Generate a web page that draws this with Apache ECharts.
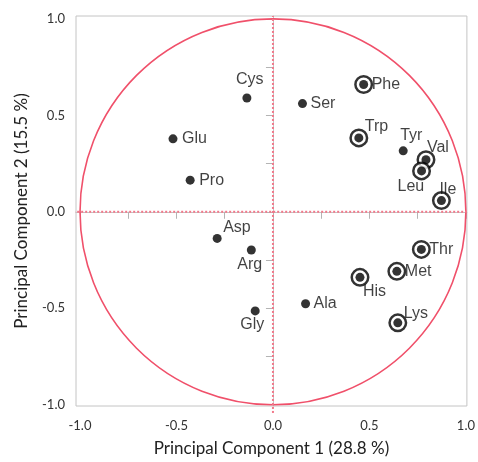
<!DOCTYPE html>
<html><head><meta charset="utf-8">
<script src="https://cdn.jsdelivr.net/npm/echarts@6/dist/echarts.min.js"></script>
<style>html,body{margin:0;padding:0;background:#fff}#c{width:478px;height:462px}</style>
</head><body><div id="c"></div>
<script>
var names = ['Glu','Pro','Cys','Ser','Phe','Trp','Tyr','Val','Leu','Ile','Asp','Arg','Gly','Ala','His','Met','Thr','Lys'];
var pc1 = [-0.518,-0.429,-0.135,0.153,0.470,0.445,0.675,0.793,0.770,0.873,-0.289,-0.112,-0.092,0.169,0.451,0.642,0.769,0.647];
var pc2 = [0.378,0.164,0.590,0.561,0.660,0.383,0.316,0.270,0.212,0.058,-0.138,-0.198,-0.514,-0.477,-0.340,-0.309,-0.195,-0.576];
var circled = ['Phe','Trp','Val','Leu','Ile','His','Met','Thr','Lys'];
var tickLabels = [-1.0,-0.5,0.0,0.5,1.0];
var tickValues = [-1.0,-0.75,-0.5,-0.25,0.0,0.25,0.5,0.75,1.0];
// label anchor offsets (text left edge / vertical centre relative to point)
var labelOffsets = {
  Glu:[9,0],Pro:[9,0],Cys:[-11,-18],Ser:[8,0],Phe:[8,0],Trp:[6,-11],Tyr:[-3,-15],
  Val:[1,-12],Leu:[-24,16],Ile:[-2,-11],Asp:[6,-11],Arg:[-14,15],Gly:[-15,14],
  Ala:[8,0],His:[3,14],Met:[8,0],Thr:[8,0],Lys:[6,-9]
};

var pts = names.map(function(n,i){
  var o = labelOffsets[n];
  return {name:n, value:[pc1[i],pc2[i]], label:{offset:o}};
});
var ringPts = names.map(function(n,i){return [pc1[i],pc2[i],n];}).filter(function(d){return circled.indexOf(d[2])>=0;});

var red = '#f0506a';
var axisCommon = {
  type:'value', interval:0.25,
  axisLine:{show:true,lineStyle:{color:'#c4c4c4',width:1}},
  axisTick:{show:true,inside:false,length:7,lineStyle:{color:'#b4b4b4'},customValues:tickValues},
  axisLabel:{color:'#333',fontFamily:'Lato',fontSize:13,customValues:tickLabels,formatter:function(v){return v.toFixed(1);}},
  splitLine:{show:false},
  nameLocation:'middle',
  nameTextStyle:{color:'#222',fontFamily:'Lato',fontSize:17}
};
var chart = echarts.init(document.getElementById('c'),null,{renderer:'canvas'});
chart.setOption({
  animation:false,
  grid:{left:76,right:8,top:16,bottom:52,show:true,borderColor:'#c4c4c4',borderWidth:1,containLabel:false},
  xAxis:Object.assign({},axisCommon,{min:-1.0206,max:1.005,name:'Principal Component 1 (28.8 %)',nameGap:34,
    axisLabel:Object.assign({},axisCommon.axisLabel,{margin:13})}),
  yAxis:Object.assign({},axisCommon,{min:-1.007,max:1.015,name:'Principal Component 2 (15.5 %)',nameGap:46,
    axisLabel:Object.assign({},axisCommon.axisLabel,{margin:11})}),
  series:[
    {type:'custom',silent:true,clip:false,z:1,data:[[0,0]],
     renderItem:function(params,api){
       var c = api.coord([0,0]); var s = api.size([1,1]);
       return {type:'circle',shape:{cx:c[0],cy:c[1],r:(s[0]+s[1])/2},style:{fill:null,stroke:red,lineWidth:1.6}};
     }},
    {type:'line',silent:true,clip:false,z:2,symbol:'none',data:[[0,-1.043],[0,1.015]],
     lineStyle:{color:'#f2788a',width:2,type:[2,2]}},
    {type:'line',silent:true,clip:false,z:2,symbol:'none',data:[[-1.056,0],[1.005,0]],
     lineStyle:{color:'#f2788a',width:2,type:[2,2]}},
    {type:'scatter',silent:true,z:3,data:ringPts,symbol:'circle',symbolSize:16.5,
     itemStyle:{color:'#fff',borderColor:'#000',borderWidth:2.5}},
    {type:'scatter',silent:true,z:4,data:pts,symbol:'circle',symbolSize:9,
     itemStyle:{color:'#000'},
     label:{show:true,position:'inside',align:'left',verticalAlign:'middle',
       formatter:'{b}',color:'#111',fontFamily:'Liberation Sans',fontSize:16}}
  ]
});
</script></body></html>
